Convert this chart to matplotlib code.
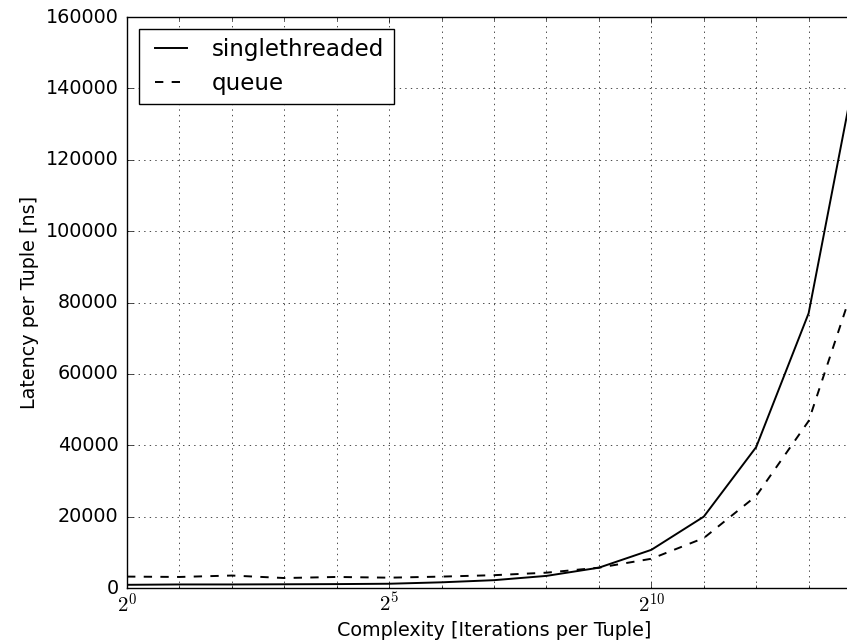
import matplotlib
matplotlib.use("Agg")
from matplotlib import pyplot as plt
from matplotlib.ticker import FixedLocator, NullFormatter

# complexity = 2^0 .. 2^14 iterations per tuple
exponents = list(range(15))
singlethreaded = [900, 1000, 1000, 1050, 1100, 1200, 1600, 2200, 3400, 5700,
                  10700, 20000, 39500, 77000, 153000]
queue = [3200, 3100, 3500, 2800, 3100, 2900, 3200, 3600, 4300, 5700,
         8200, 14000, 25800, 46800, 91000]

major_exp = [0, 5, 10]

plt.style.use("classic")
plt.rcParams["figure.facecolor"] = "white"
plt.rcParams["savefig.facecolor"] = "white"
plt.rcParams["font.size"] = 13.8
plt.rcParams["xtick.labelsize"] = 15
plt.rcParams["xtick.major.size"] = 4.6
plt.rcParams["ytick.major.size"] = 4.6
plt.rcParams["xtick.minor.size"] = 2.3
plt.rcParams["xtick.major.pad"] = 3
plt.rcParams["ytick.major.pad"] = 6

complexity = [2 ** e for e in exponents]

fig = plt.figure(figsize=(8.47, 6.43), dpi=100)
ax = fig.add_axes([0.150, 0.0855, 0.8666, 0.888])

ax.plot(complexity, singlethreaded, "k-", label="singlethreaded", linewidth=1.4)
ax.plot(complexity, queue, "k--", label="queue", linewidth=1.4)

ax.set_xscale("log", base=2)
ax.set_xlim(1, 2 ** 14)
ax.set_ylim(0, 160000)

ax.xaxis.set_major_locator(FixedLocator([2 ** e for e in major_exp]))
ax.set_xticklabels(["$2^{%d}$" % e for e in major_exp])
ax.xaxis.set_minor_locator(FixedLocator(complexity))
ax.xaxis.set_minor_formatter(NullFormatter())

ax.grid(True, which="major")
ax.grid(True, which="minor", axis="x", linestyle=":", color="k", linewidth=0.5)

ax.set_xlabel("Complexity [Iterations per Tuple]", labelpad=3)
ax.set_ylabel("Latency per Tuple [ns]")
ax.legend(loc="upper left", fontsize="large")

fig.savefig("out.png", dpi=100)
